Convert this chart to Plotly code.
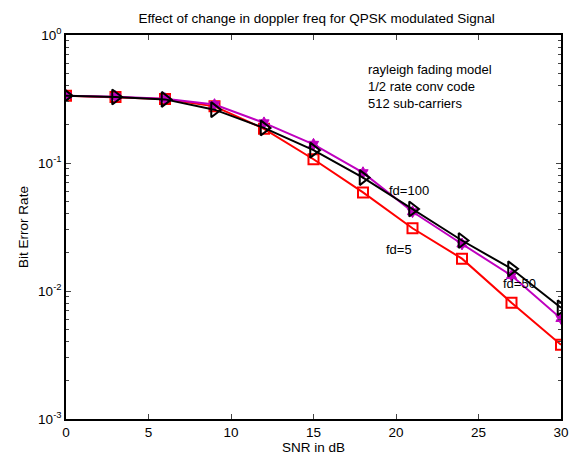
import math
import plotly.graph_objects as go

snr = [0, 3, 6, 9, 12, 15, 18, 21, 24, 27, 30]
ber_fd5 = [0.336, 0.328, 0.316, 0.277, 0.185, 0.107, 0.0589, 0.0309, 0.0179, 0.0081, 0.0038]
ber_fd50 = [0.336, 0.330, 0.318, 0.286, 0.206, 0.140, 0.084, 0.0416, 0.0233, 0.0132, 0.0061]
ber_fd100 = [0.336, 0.328, 0.314, 0.261, 0.188, 0.126, 0.0769, 0.0437, 0.0248, 0.0149, 0.0074]

x_ticks = [0, 5, 10, 15, 20, 25, 30]
y_tickvals = [1e-3, 1e-2, 1e-1, 1]
y_ticktext = ["10<sup>-3</sup>", "10<sup>-2</sup>", "10<sup>-1</sup>", "10<sup>0</sup>"]
y_minor = [k * 10.0 ** e for e in (-3, -2, -1) for k in range(2, 10)]

info_lines = ["rayleigh fading model", "1/2 rate conv code", "512 sub-carriers"]
labels = [("fd=100", 20.8, 0.0605), ("fd=5", 20.2, 0.0211), ("fd=50", 27.5, 0.0114)]

FONT = "Liberation Sans, Arial, sans-serif"

fig = go.Figure()
fig.add_trace(go.Scatter(x=snr, y=ber_fd5, mode="lines+markers", name="fd=5",
                         line=dict(color="#FF0000", width=2),
                         marker=dict(symbol="square-open", size=10, color="#FF0000",
                                     line=dict(width=2, color="#FF0000"))))
fig.add_trace(go.Scatter(x=snr, y=ber_fd50, mode="lines+markers", name="fd=50",
                         line=dict(color="#BF00BF", width=2),
                         marker=dict(symbol="hexagram", size=9, color="#BF00BF",
                                     line=dict(width=1, color="#BF00BF"))))
fig.add_trace(go.Scatter(x=snr, y=ber_fd100, mode="lines+markers", name="fd=100",
                         line=dict(color="#000000", width=2),
                         marker=dict(symbol="triangle-right-open", size=13, color="#000000",
                                     line=dict(width=2, color="#000000"))))

for txt, xv, yv in labels:
    fig.add_annotation(x=xv, y=math.log10(yv), text=txt, showarrow=False,
                       font=dict(family=FONT, size=13, color="black"),
                       xanchor="center", yanchor="middle")

fig.add_annotation(x=18.2, y=math.log10(0.396), text="<br>".join(info_lines),
                   showarrow=False, align="left", xanchor="left", yanchor="middle",
                   font=dict(family=FONT, size=13, color="black"))

fig.update_layout(
    width=581, height=465,
    margin=dict(l=66, r=13, t=35, b=44),
    paper_bgcolor="white", plot_bgcolor="white",
    showlegend=False,
    font=dict(family=FONT, size=13, color="black"),
    title=dict(text="Effect of change in doppler freq for QPSK modulated Signal",
               x=0.545, xanchor="center", y=1 - 18 / 465, yanchor="middle",
               font=dict(family=FONT, size=13.5, color="black")),
)
fig.update_xaxes(range=[0, 30], tickvals=x_ticks, ticks="inside", ticklen=5,
                 showline=True, linecolor="black", linewidth=1.5, mirror="allticks",
                 showgrid=False, zeroline=False, tickfont=dict(size=13.5),
                 title=dict(text="SNR in dB", font=dict(size=13.5), standoff=4))
fig.update_yaxes(type="log", range=[-3, 0], tickvals=y_tickvals, ticktext=y_ticktext,
                 ticks="inside", ticklen=5, showline=True, linecolor="black", linewidth=1.5,
                 mirror="allticks", showgrid=False, zeroline=False, tickfont=dict(size=13.5),
                 minor=dict(tickvals=y_minor, ticks="inside", ticklen=3, showgrid=False),
                 title=dict(text="Bit Error Rate", font=dict(size=13.5), standoff=6))

fig.write_html("out.html")
